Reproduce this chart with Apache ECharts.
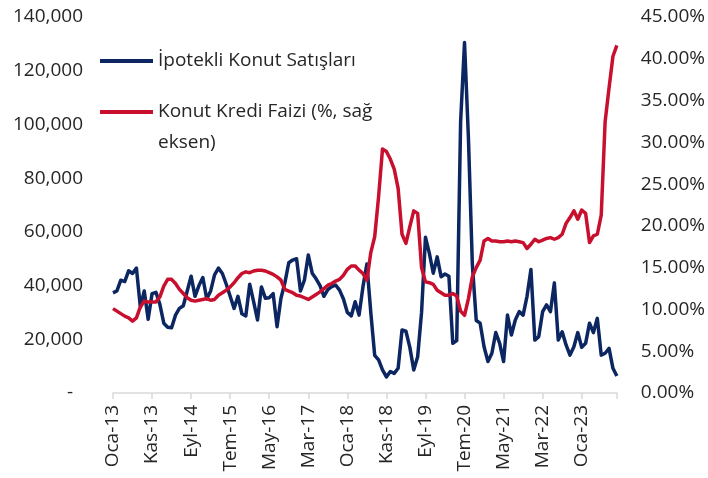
<!DOCTYPE html>
<html>
<head>
<meta charset="utf-8">
<script src="https://cdn.jsdelivr.net/npm/echarts@6/dist/echarts.min.js"></script>
<style>
  html, body { margin: 0; padding: 0; background: #fff; }
  #chart { width: 708px; height: 478px; }
</style>
</head>
<body>
<div id="chart"></div>
<script>
// aylar: Oca-13 .. Eki-23
const monthNames = ['Oca', 'Şub', 'Mar', 'Nis', 'May', 'Haz', 'Tem', 'Ağu', 'Eyl', 'Eki', 'Kas', 'Ara']
const startYear = 13
const monthCount = 130
const months = []
for (let i = 0; i < monthCount; i++) {
  months.push(monthNames[i % 12] + '-' + (startYear + Math.floor(i / 12)))
}

// İpotekli konut satışları (adet)
const ipotekliSatis = [
  37300, 38000, 42000, 41500, 45500, 44500, 46500, 32000, 38000, 27500,
  37000, 37500, 33000, 26000, 24500, 24300, 29000, 31500, 32500, 38000,
  43500, 36000, 40000, 43000, 35000, 38000, 44000, 46500, 44500, 40500,
  36000, 31500, 36000, 29500, 28700, 40500, 34000, 27200, 39500, 35300,
  35500, 37000, 24700, 35300, 41000, 48500, 49500, 50000, 38000, 42000,
  51400, 44600, 42500, 40000, 36000, 38500, 39600, 40200, 38300, 35000,
  30000, 28700, 34000, 29000, 39600, 48000, 30000, 14000, 12300, 8600,
  6000, 8000, 7300, 9200, 23500, 23000, 17000, 8600, 13500, 30000,
  58000, 52000, 44600, 50700, 43300, 44300, 43500, 18500, 19500, 101000,
  130500, 95000, 48000, 27000, 26000, 17200, 11700, 14800, 22500, 18500,
  11700, 29000, 21600, 27200, 30300, 29000, 36000, 46000, 19700, 21000,
  30300, 32800, 30300, 41000, 19700, 22800, 17900, 14100, 17200, 22500,
  17000, 18500, 26000, 22500, 27800, 14100, 14800, 16600, 9200, 6300
]

// Konut kredi faizi (%)
const krediFaizi = [
  10.1, 9.8, 9.5, 9.2, 9.0, 8.6, 9.0, 10.3, 11.0, 10.9,
  10.9, 10.9, 11.5, 12.8, 13.6, 13.6, 13.1, 12.4, 11.9, 11.4,
  11.1, 11.0, 11.1, 11.2, 11.3, 11.1, 11.2, 11.7, 12.0, 12.3,
  12.7, 13.2, 13.8, 14.3, 14.5, 14.4, 14.6, 14.7, 14.7, 14.6,
  14.4, 14.2, 13.9, 13.5, 12.4, 12.2, 12.0, 11.7, 11.6, 11.4,
  11.2, 11.5, 11.8, 12.1, 12.5, 12.9, 13.1, 13.4, 13.6, 14.1,
  14.8, 15.2, 15.2, 14.7, 14.3, 13.5, 16.8, 18.7, 23.5, 29.2,
  28.9, 28.0, 26.8, 24.5, 19.0, 17.9, 19.9, 21.8, 21.5, 15.0,
  13.3, 13.2, 13.0, 12.3, 12.0, 11.7, 11.7, 11.9, 11.6, 9.8,
  9.3, 11.3, 13.9, 15.0, 15.9, 18.2, 18.5, 18.2, 18.2, 18.1,
  18.1, 18.2, 18.1, 18.2, 18.1, 18.0, 17.3, 17.8, 18.4, 18.1,
  18.3, 18.5, 18.6, 18.4, 18.6, 19.0, 20.3, 21.0, 21.8, 20.8,
  21.9, 21.5, 18.0, 18.8, 19.0, 21.3, 32.5, 36.5, 40.3, 41.6
]

const textColor = '#262626'
const fontFamily = '"Open Sans", "Noto Sans", sans-serif'
const fontSize = 19

const chart = echarts.init(document.getElementById('chart'))

chart.setOption({
  animation: false,
  textStyle: { fontFamily: fontFamily, color: textColor },
  grid: {
    left: 113,
    right: 90,
    top: 17,
    bottom: 85,
    containLabel: false
  },
  legend: [{
    data: ['İpotekli Konut Satışları'],
    left: 100,
    top: 49,
    padding: 0,
    itemWidth: 53,
    itemHeight: 4,
    icon: 'rect',
    textStyle: { fontSize: fontSize, color: textColor, fontFamily: fontFamily, lineHeight: 24 }
  }, {
    data: ['Konut Kredi Faizi (%, sağ eksen)'],
    left: 100,
    top: 65.5,
    padding: 0,
    itemWidth: 53,
    itemHeight: 4,
    icon: 'rect',
    // boş ilk satır: ilk metin satırı ikonla aynı hizada kalsın
    formatter: () => '\nKonut Kredi Faizi (%, sağ\neksen)',
    textStyle: {
      fontSize: fontSize, color: textColor, fontFamily: fontFamily,
      lineHeight: 31
    }
  }],
  xAxis: {
    type: 'category',
    data: months,
    boundaryGap: false,
    axisLine: { lineStyle: { color: '#d9d9d9', width: 1.5 } },
    axisTick: {
      // her 10 ayda bir + eksen sonu
      interval: idx => idx % 10 === 0 || idx === monthCount - 1,
      length: 6,
      lineStyle: { color: '#d9d9d9', width: 1.5 }
    },
    axisLabel: {
      interval: 9,
      rotate: 90,
      margin: 12,
      fontSize: fontSize,
      color: textColor,
      fontFamily: fontFamily
    },
    splitLine: { show: false }
  },
  yAxis: [{
    type: 'value',
    min: 0,
    max: 140000,
    interval: 20000,
    axisLine: { show: false },
    axisTick: { show: false },
    splitLine: { show: false },
    axisLabel: {
      margin: 30,
      fontSize: fontSize,
      color: textColor,
      fontFamily: fontFamily,
      formatter: v => v === 0 ? '-  ' : v.toLocaleString('en-US')
    }
  }, {
    type: 'value',
    min: 0,
    max: 45,
    interval: 5,
    axisLine: { show: false },
    axisTick: { show: false },
    splitLine: { show: false },
    axisLabel: {
      margin: 24,
      fontSize: fontSize,
      color: textColor,
      fontFamily: fontFamily,
      formatter: v => v.toFixed(2) + '%'
    }
  }],
  series: [{
    name: 'İpotekli Konut Satışları',
    type: 'line',
    yAxisIndex: 0,
    data: ipotekliSatis,
    symbol: 'none',
    lineStyle: { color: '#0c2661', width: 3.5, join: 'round' },
    itemStyle: { color: '#0c2661' }
  }, {
    name: 'Konut Kredi Faizi (%, sağ eksen)',
    type: 'line',
    yAxisIndex: 1,
    data: krediFaizi,
    symbol: 'none',
    lineStyle: { color: '#c8102e', width: 3.5, join: 'round' },
    itemStyle: { color: '#c8102e' }
  }]
})
</script>
</body>
</html>
